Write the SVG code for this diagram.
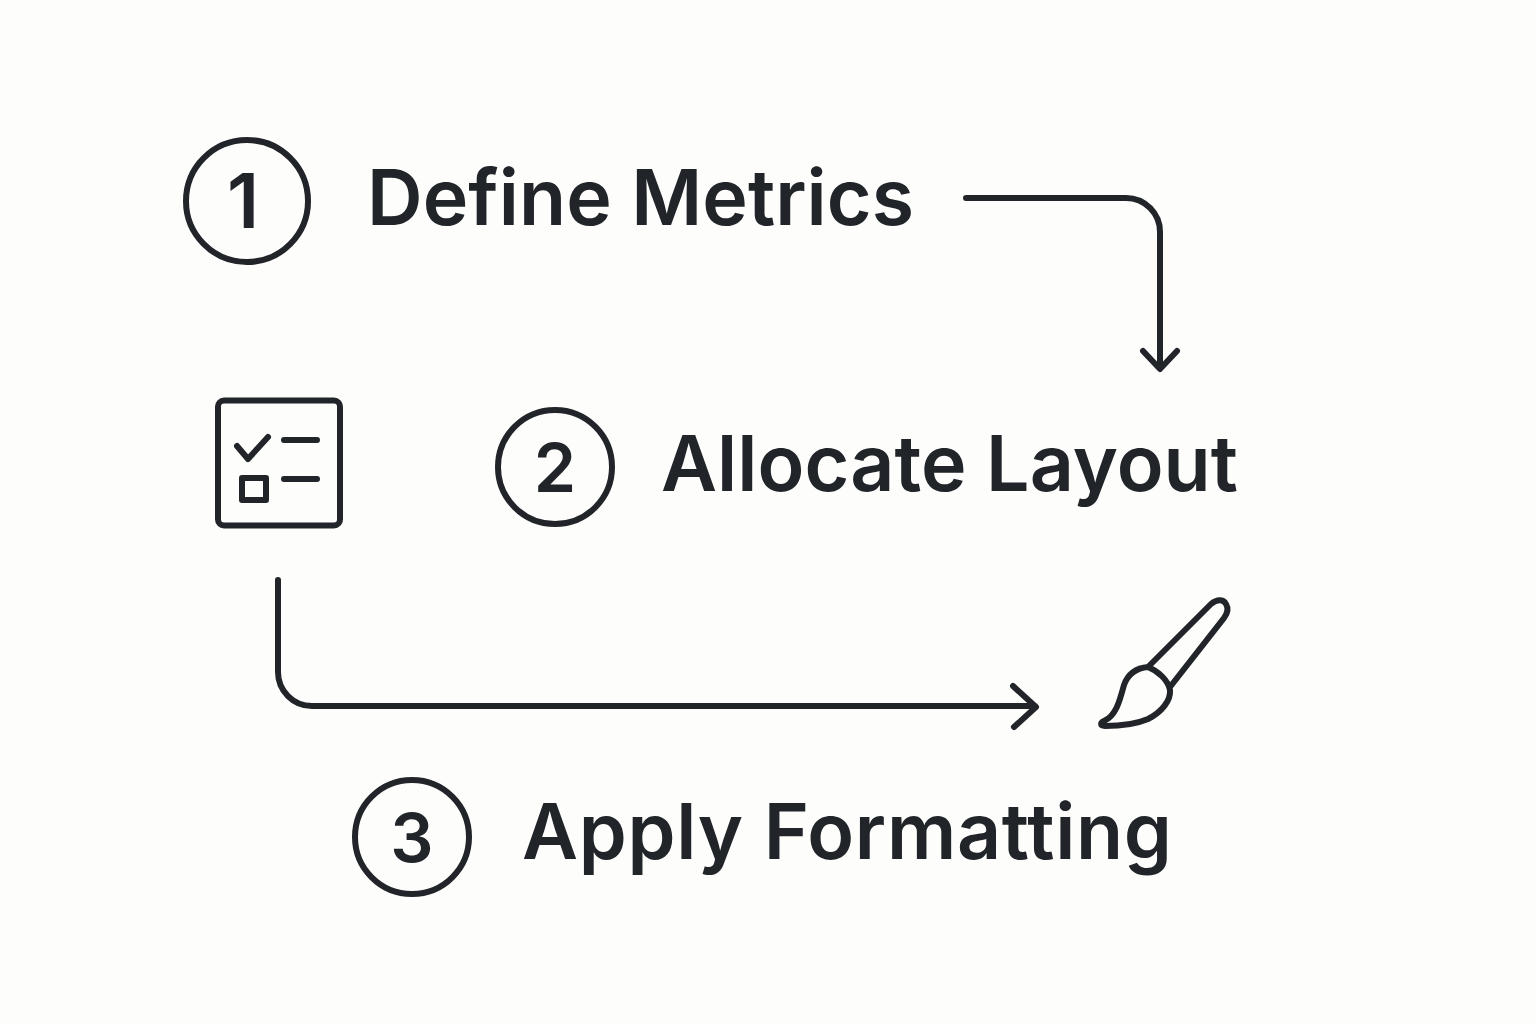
<svg xmlns="http://www.w3.org/2000/svg" width="1536" height="1024" viewBox="0 0 1536 1024">
<style>
.l{fill:none;stroke:#212529;stroke-width:6;stroke-linecap:round;stroke-linejoin:round}
.t{font-family:Inter,"Liberation Sans",sans-serif;font-weight:600;fill:#212529}
</style>
<rect width="1536" height="1024" fill="#fdfdfb"/>
<g id="connectors">
<path class="l" d="M966 198H1126A34 34 0 0 1 1160 232V368M1143 351L1160 369L1177 351"/>
<path class="l" d="M278 580V672A34 34 0 0 0 312 706H1035M1013 686L1036 707L1014 727"/>
</g>
<g id="step1"><circle class="l" cx="247" cy="201" r="61"/><text class="t" x="243" y="228" font-size="76" text-anchor="middle">1</text><text class="t" x="367" y="225" font-size="77" textLength="547" lengthAdjust="spacing">Define Metrics</text></g>
<g id="step2"><circle class="l" cx="555" cy="467" r="57"/><text class="t" x="555" y="492" font-size="68" text-anchor="middle">2</text><text class="t" x="661" y="491" font-size="77" textLength="577" lengthAdjust="spacing">Allocate Layout</text></g>
<g id="step3"><circle class="l" cx="412" cy="837" r="57"/><text class="t" x="412" y="862" font-size="68" text-anchor="middle">3</text><text class="t" x="522" y="859" font-size="77" textLength="650" lengthAdjust="spacing">Apply Formatting</text></g>
<g id="checklist"><rect class="l" x="218" y="400.500" width="122" height="125" rx="6"/><path class="l" d="M237 446L248 459L268 437M284 440H317M284 479H317"/><rect class="l" x="242" y="478" width="24" height="22"/></g>
<g id="brush"><path class="l" d="M1148 667L1211 604C1218 598 1224 600 1226 604C1229 609 1227 614 1224 618L1170 687M1148 667C1158 671 1168 680 1170 690C1171 700 1162 712 1148 719C1134 725 1116 726 1105 726C1100 726 1100 723 1104 721C1116 716 1120 700 1124 685C1128 674 1136 668 1148 667Z"/></g>
</svg>
